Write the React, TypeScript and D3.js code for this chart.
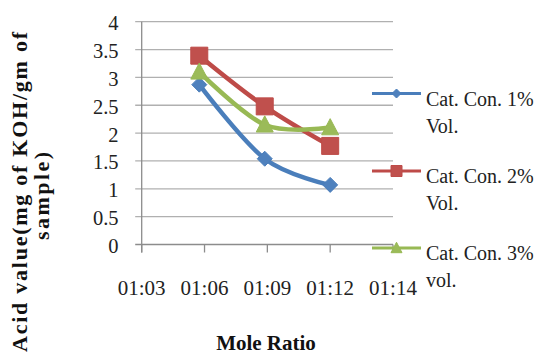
import React from "react";
import * as d3 from "d3";

// Mole ratios, entered as h:mm and read as times of day
const moleRatios = ["1:06", "1:09", "1:12"];

// Acid value (mg of KOH/gm of sample) per catalyst concentration
const cat1Values = [2.87, 1.54, 1.07];
const cat2Values = [3.39, 2.48, 1.77];
const cat3Values = [3.1, 2.15, 2.1];

const seriesLine1 = ["Cat. Con. 1%", "Cat. Con. 2%", "Cat. Con. 3%"];
const seriesLine2 = ["Vol.", "Vol.", "vol."];
const seriesColors = ["#4A7EBB", "#BE4B48", "#98B954"];
const markerColors = ["#4F81BD", "#C0504D", "#9BBB59"];
const markerKinds = ["diamond", "square", "triangle"];

// Axis ticks (x in fractions of a day)
const xTickValues = [0.044, 0.046, 0.048, 0.05, 0.052];
const xTickLabels = ["01:03", "01:06", "01:09", "01:12", "01:14"];
const yTickValues = [0, 0.5, 1, 1.5, 2, 2.5, 3, 3.5, 4];
const yTickLabels = ["0", "0.5", "1", "1.5", "2", "2.5", "3", "3.5", "4"];

const W = 538;
const H = 358;
const plot = { left: 141.7, right: 393, top: 21.7, bottom: 244.5 };

const toDay = (s: string) => {
  const [h, m] = s.split(":").map(Number);
  return (h * 60 + m) / 1440;
};

const markerPath = (kind: string, r: number) => {
  if (kind === "diamond") return `M0,${-r}L${r},0L0,${r}L${-r},0Z`;
  if (kind === "square") return `M${-r},${-r}H${r}V${r}H${-r}Z`;
  const h = r * 1.9;
  return `M0,${-h * 0.55}L${r},${h * 0.45}L${-r},${h * 0.45}Z`;
};

const serif = "'Liberation Serif', 'Times New Roman', serif";

export default function App() {
  const x = d3
    .scaleLinear()
    .domain([xTickValues[0], xTickValues[xTickValues.length - 1]])
    .range([plot.left, plot.right]);
  const y = d3
    .scaleLinear()
    .domain([yTickValues[0], yTickValues[yTickValues.length - 1]])
    .range([plot.bottom, plot.top]);

  const xs = moleRatios.map(toDay);
  const series = [cat1Values, cat2Values, cat3Values];

  const line = d3
    .line<[number, number]>()
    .x((d) => x(d[0]))
    .y((d) => y(d[1]))
    .curve(d3.curveCardinal.tension(0));

  const markerSizes = [7.5, 8.5, 8.5];
  const legendY = [93.5, 171, 248];

  return (
    <svg
      width={W}
      height={H}
      style={{ position: "absolute", left: 0, top: 0, background: "#fff" }}
    >
      {/* horizontal gridlines */}
      {yTickValues.map((v, i) => (
        <line
          key={"g" + i}
          x1={plot.left - 6.5}
          x2={plot.right}
          y1={y(v)}
          y2={y(v)}
          stroke={i === 0 ? "#8c8c8c" : "#b0b0b0"}
          strokeWidth={1.3}
        />
      ))}
      {/* y axis */}
      <line
        x1={plot.left}
        x2={plot.left}
        y1={plot.top}
        y2={plot.bottom + 8}
        stroke="#8c8c8c"
        strokeWidth={1.3}
      />
      {/* x tick marks */}
      {xTickValues.map((v, i) => (
        <line
          key={"xt" + i}
          x1={x(v)}
          x2={x(v)}
          y1={plot.bottom}
          y2={plot.bottom + 8}
          stroke="#8c8c8c"
          strokeWidth={1.3}
        />
      ))}
      {/* y tick labels */}
      {yTickValues.map((v, i) => (
        <text
          key={"yl" + i}
          x={118.5}
          y={y(v) + 8.5}
          textAnchor="end"
          fontFamily={serif}
          fontSize={20.5}
          fill="#222"
        >
          {yTickLabels[i]}
        </text>
      ))}
      {/* x tick labels */}
      {xTickValues.map((v, i) => (
        <text
          key={"xl" + i}
          x={x(v)}
          y={295}
          textAnchor="middle"
          fontFamily={serif}
          fontSize={21}
          fill="#222"
        >
          {xTickLabels[i]}
        </text>
      ))}

      {/* series */}
      {series.map((vals, si) => {
        const pts: [number, number][] = vals.map((v, i) => [xs[i], v]);
        return (
          <g key={"s" + si}>
            <path
              d={line(pts) || ""}
              fill="none"
              stroke={seriesColors[si]}
              strokeWidth={4.5}
              strokeLinejoin="round"
              strokeLinecap="round"
            />
            {pts.map((p, i) => (
              <path
                key={i}
                d={markerPath(markerKinds[si], markerSizes[si])}
                transform={`translate(${x(p[0])},${y(p[1])})`}
                fill={markerColors[si]}
                stroke={seriesColors[si]}
                strokeWidth={1}
              />
            ))}
          </g>
        );
      })}

      {/* legend */}
      {seriesLine1.map((name, si) => (
        <g key={"lg" + si}>
          <line
            x1={372}
            x2={421}
            y1={legendY[si]}
            y2={legendY[si]}
            stroke={seriesColors[si]}
            strokeWidth={3}
          />
          <path
            d={markerPath(markerKinds[si], [4.5, 5.5, 5.5][si])}
            transform={`translate(396.5,${legendY[si]})`}
            fill={markerColors[si]}
            stroke={seriesColors[si]}
            strokeWidth={1}
          />
          <text
            x={426}
            y={legendY[si] + 12}
            fontFamily={serif}
            fontSize={20}
            fill="#222"
          >
            {name}
          </text>
          <text
            x={426}
            y={legendY[si] + 39}
            fontFamily={serif}
            fontSize={20}
            fill="#222"
          >
            {seriesLine2[si]}
          </text>
        </g>
      ))}

      {/* axis titles */}
      <text
        x={266}
        y={350}
        textAnchor="middle"
        fontFamily={serif}
        fontWeight="bold"
        fontSize={21}
        fill="#111"
      >
        Mole Ratio
      </text>
      <g transform="translate(27,192) rotate(-90)">
        <text
          x={0}
          y={0}
          textAnchor="middle"
          fontFamily={serif}
          fontWeight="bold"
          fontSize={22}
          fill="#111"
          textLength={320}
          lengthAdjust="spacing"
        >
          Acid value(mg of KOH/gm of
        </text>
      </g>
      <g transform="translate(49,196) rotate(-90)">
        <text
          x={0}
          y={0}
          textAnchor="middle"
          fontFamily={serif}
          fontWeight="bold"
          fontSize={22}
          fill="#111"
          textLength={88}
          lengthAdjust="spacing"
        >
          sample)
        </text>
      </g>
    </svg>
  );
}
